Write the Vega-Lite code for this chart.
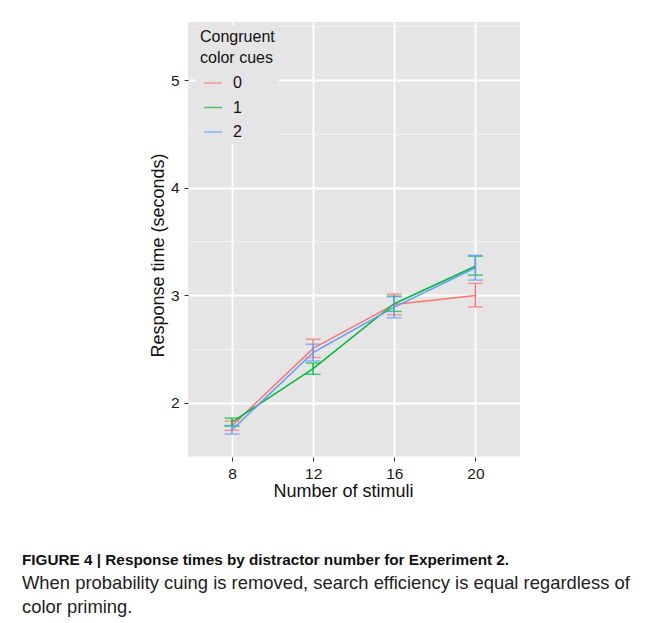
{
  "$schema": "https://vega.github.io/schema/vega-lite/v6.json",
  "width": 332,
  "height": 435,
  "autosize": {"type": "none"},
  "padding": {"left": 188, "top": 22, "right": 137, "bottom": 166},
  "background": "white",
  "title": {
    "text": "FIGURE 4 | Response times by distractor number for Experiment 2.",
    "subtitle": ["When probability cuing is removed, search efficiency is equal regardless of", "color priming."],
    "orient": "bottom",
    "anchor": "start",
    "frame": "group",
    "dx": -166,
    "offset": 52,
    "font": "Liberation Sans",
    "fontSize": 15.3,
    "fontWeight": "bold",
    "color": "#111",
    "subtitleFont": "Liberation Sans",
    "subtitleFontSize": 18.4,
    "subtitleColor": "#222",
    "subtitleLineHeight": 24,
    "subtitlePadding": 6
  },
  "data": {
    "values": [
      {"stimuli": 8, "cue": "0", "rt": 1.786, "lo": 1.743, "hi": 1.829},
      {"stimuli": 8, "cue": "1", "rt": 1.820, "lo": 1.783, "hi": 1.857},
      {"stimuli": 8, "cue": "2", "rt": 1.748, "lo": 1.708, "hi": 1.788},
      {"stimuli": 12, "cue": "0", "rt": 2.505, "lo": 2.42, "hi": 2.59},
      {"stimuli": 12, "cue": "1", "rt": 2.317, "lo": 2.264, "hi": 2.37},
      {"stimuli": 12, "cue": "2", "rt": 2.466, "lo": 2.388, "hi": 2.544},
      {"stimuli": 16, "cue": "0", "rt": 2.914, "lo": 2.818, "hi": 3.01},
      {"stimuli": 16, "cue": "1", "rt": 2.92, "lo": 2.849, "hi": 2.991},
      {"stimuli": 16, "cue": "2", "rt": 2.888, "lo": 2.79, "hi": 2.986},
      {"stimuli": 20, "cue": "0", "rt": 2.996, "lo": 2.89, "hi": 3.11},
      {"stimuli": 20, "cue": "1", "rt": 3.269, "lo": 3.186, "hi": 3.363},
      {"stimuli": 20, "cue": "2", "rt": 3.255, "lo": 3.14, "hi": 3.37}
    ]
  },
  "encoding": {
    "x": {
      "field": "stimuli",
      "type": "quantitative",
      "scale": {"domain": [5.83, 22.2], "nice": false, "zero": false},
      "axis": {
        "title": "Number of stimuli",
        "titleX": 155,
        "values": [8, 12, 16, 20],
        "grid": true,
        "gridColor": "white",
        "gridWidth": 1.8,
        "tickSize": 4,
        "labelPadding": 5,
        "titlePadding": 1
      }
    },
    "color": {
      "field": "cue",
      "type": "nominal",
      "scale": {"domain": ["0", "1", "2"], "range": ["#F8766D", "#00BA38", "#619CFF"]},
      "legend": {
        "title": ["Congruent", "color cues"],
        "orient": "none",
        "legendX": 8,
        "legendY": 3,
        "padding": 4,
        "fillColor": "#E5E5E5",
        "symbolType": "stroke",
        "symbolSize": 324,
        "symbolStrokeWidth": 1.5,
        "symbolOffset": 3,
        "labelOffset": 10,
        "labelFontSize": 16,
        "labelFont": "Liberation Sans",
        "labelColor": "#111",
        "titleFont": "Liberation Sans",
        "titleFontSize": 16,
        "titleFontWeight": "normal",
        "titleColor": "#111",
        "titleLineHeight": 21,
        "titlePadding": 7,
        "rowPadding": 6.5
      }
    }
  },
  "layer": [
    {
      "mark": {"type": "line", "strokeWidth": 1.5},
      "encoding": {
        "y": {
          "field": "rt",
          "type": "quantitative",
          "title": "Response time (seconds)",
          "scale": {"domain": [1.495, 5.54], "nice": false, "zero": false},
          "axis": {
            "title": "Response time (seconds)",
            "titleY": 233,
            "values": [1.5, 2, 2.5, 3, 3.5, 4, 4.5, 5, 5.5],
            "labelExpr": "datum.value % 1 === 0 ? format(datum.value, 'd') : ''",
            "grid": true,
            "gridColor": {"condition": {"test": "datum.value % 1 === 0", "value": "white"}, "value": "#F2F2F2"},
            "gridWidth": {"condition": {"test": "datum.value % 1 === 0", "value": 1.8}, "value": 0.9},
            "tickOpacity": {"condition": {"test": "datum.value % 1 === 0", "value": 1}, "value": 0},
            "tickSize": 4,
            "labelPadding": 5,
            "titlePadding": 3
          }
        }
      }
    },
    {
      "mark": {"type": "errorbar", "ticks": {"size": 15, "thickness": 1.5}, "thickness": 1.5},
      "encoding": {
        "y": {"field": "lo", "type": "quantitative", "title": "Response time (seconds)"},
        "y2": {"field": "hi"}
      }
    }
  ],
  "config": {
    "view": {"fill": "#E5E5E5", "stroke": null},
    "axis": {
      "domain": false,
      "tickColor": "#333",
      "labelFont": "Liberation Sans",
      "labelFontSize": 15.5,
      "labelColor": "#1a1a1a",
      "titleFont": "Liberation Sans",
      "titleFontSize": 18,
      "titleFontWeight": "normal",
      "titleColor": "#111"
    }
  }
}
